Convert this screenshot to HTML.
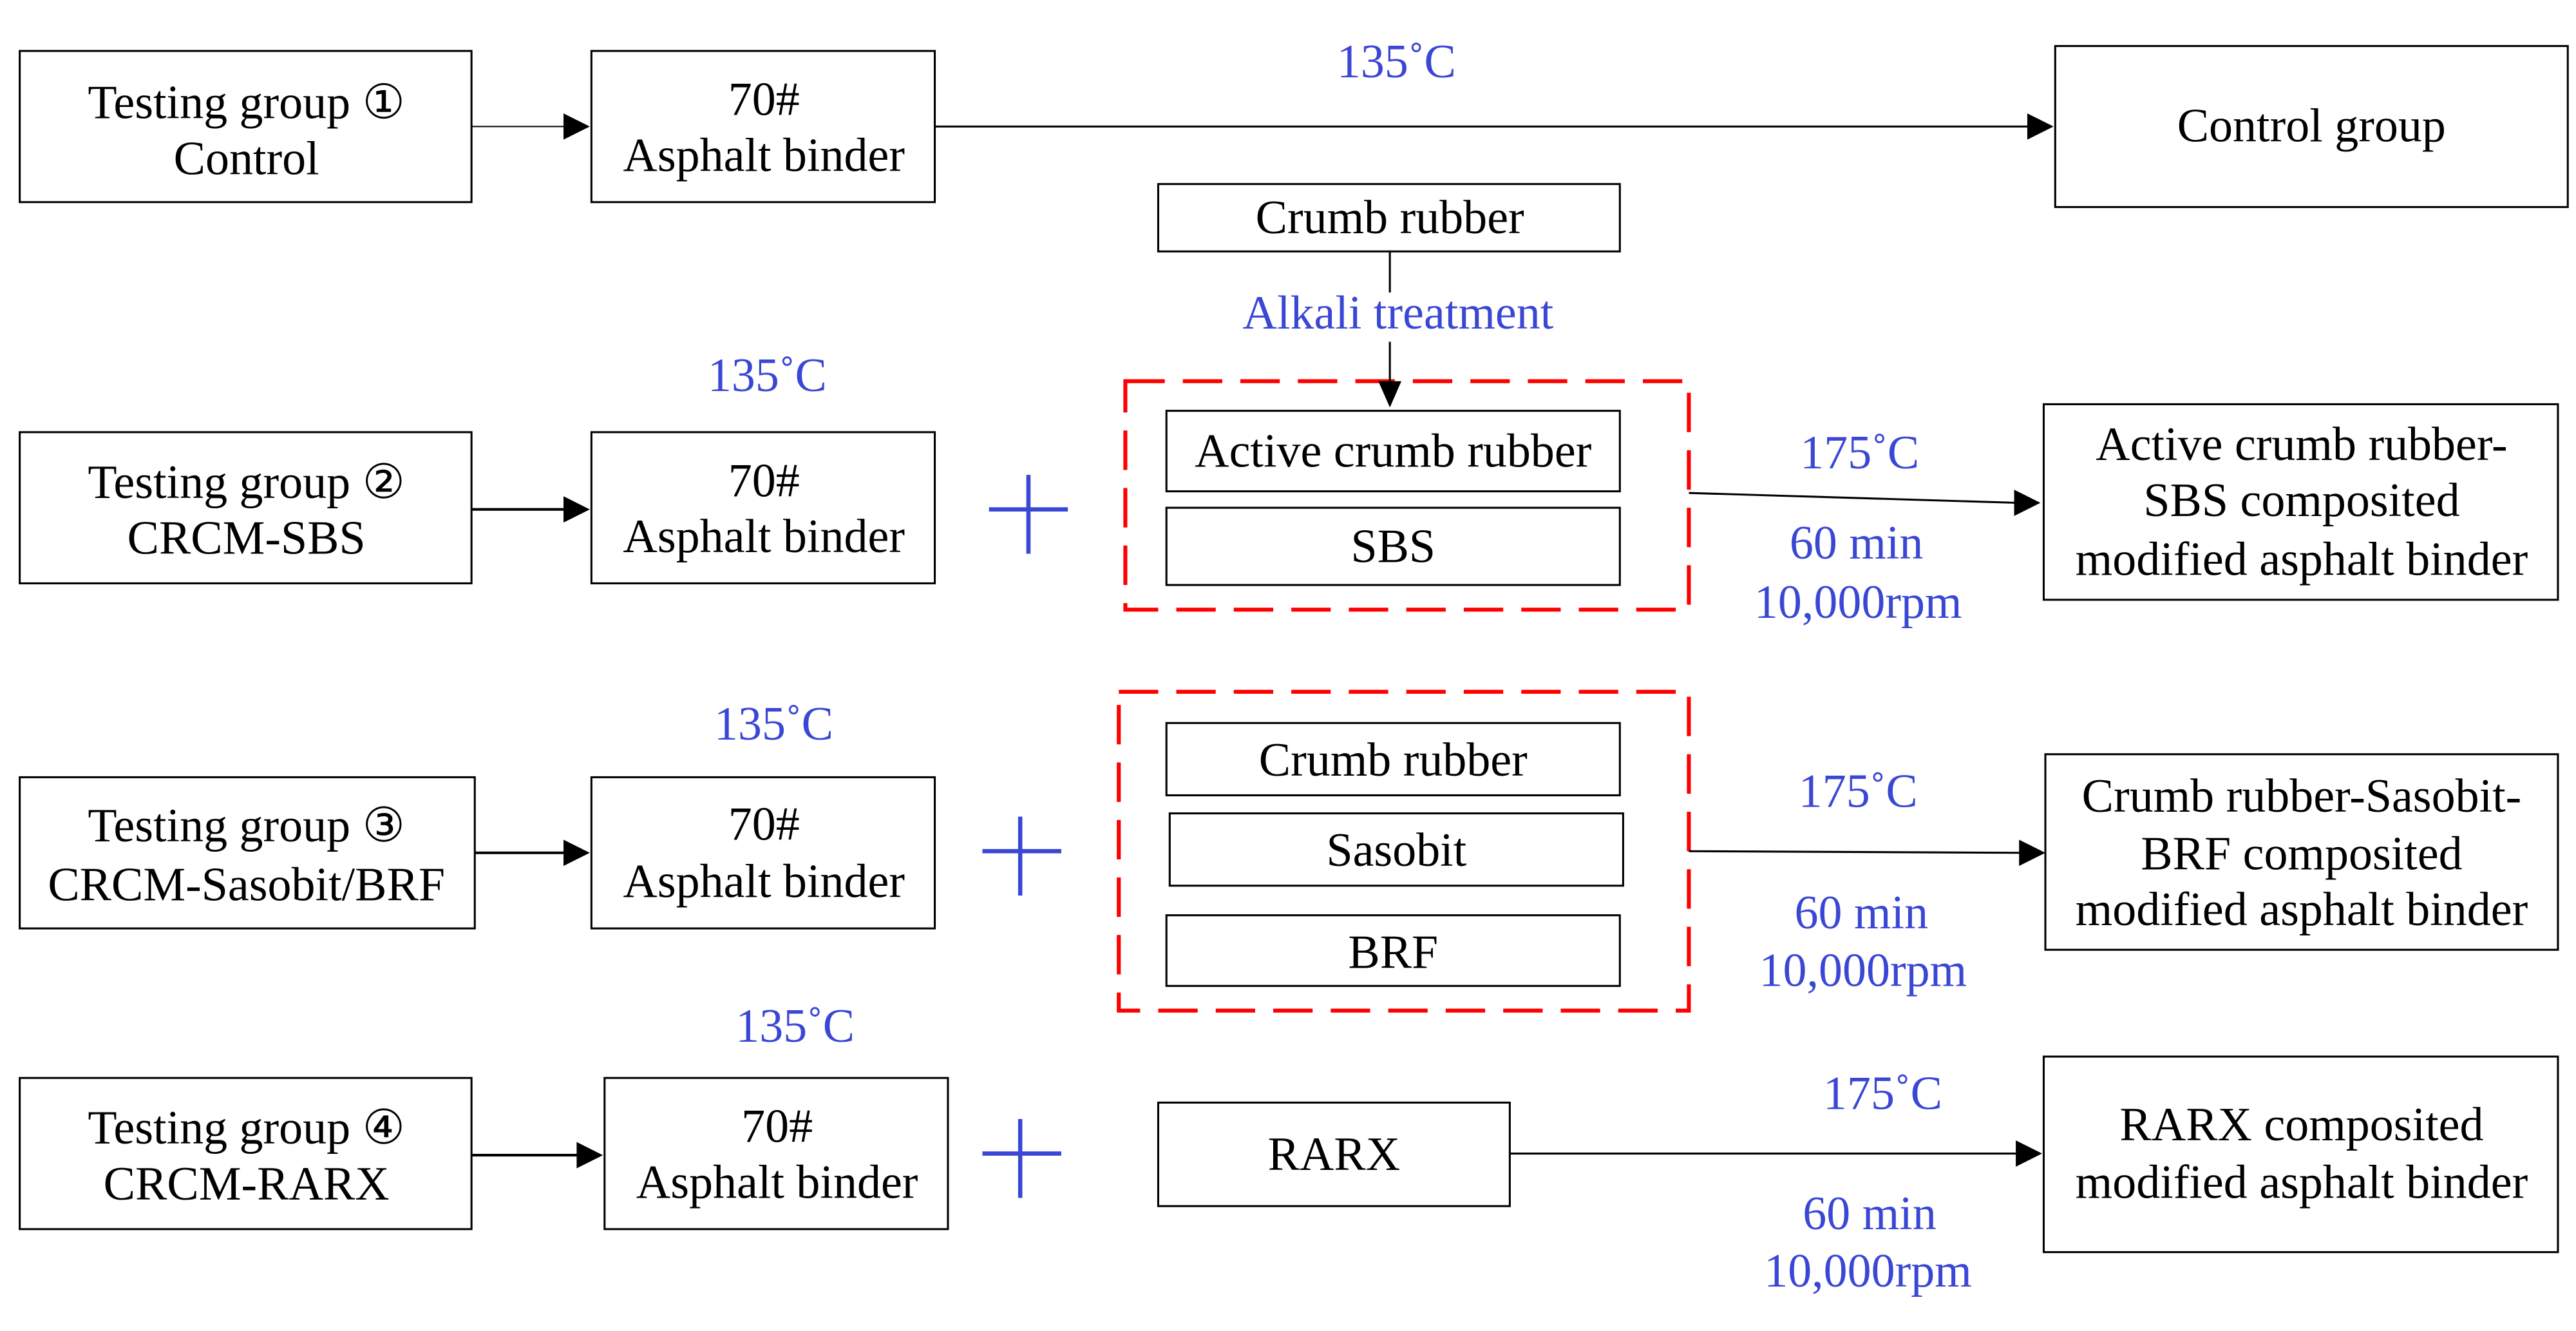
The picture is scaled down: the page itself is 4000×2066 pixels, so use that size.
<!DOCTYPE html>
<html><head><meta charset="utf-8"><style>html,body{margin:0;padding:0;background:#fff}svg{display:block}</style></head>
<body>
<svg width="4000" height="2066" viewBox="0 0 1568 810" preserveAspectRatio="none" xmlns="http://www.w3.org/2000/svg">
<g fill="none" stroke="#000" stroke-width="1.2">
<rect x="12" y="31" width="275" height="92"/>
<rect x="360" y="31" width="209" height="92"/>
<rect x="1251" y="28" width="312" height="98"/>
<rect x="705" y="112" width="281" height="41"/>
<rect x="12" y="263" width="275" height="92"/>
<rect x="360" y="263" width="209" height="92"/>
<rect x="710" y="250" width="276" height="49"/>
<rect x="710" y="309" width="276" height="47"/>
<rect x="1244" y="246" width="313" height="119"/>
<rect x="12" y="473" width="277" height="92"/>
<rect x="360" y="473" width="209" height="92"/>
<rect x="710" y="440" width="276" height="44"/>
<rect x="712" y="495" width="276" height="44"/>
<rect x="710" y="557" width="276" height="43"/>
<rect x="1245" y="459" width="312" height="119"/>
<rect x="12" y="656" width="275" height="92"/>
<rect x="368" y="656" width="209" height="92"/>
<rect x="705" y="671" width="214" height="63"/>
<rect x="1244" y="643" width="313" height="119"/>
</g>
<g fill="none" stroke="#f00" stroke-width="2.4" stroke-dasharray="24 11">
<rect x="685" y="232" width="343" height="139"/>
<rect x="681" y="421" width="347" height="194"/>
</g>
<g stroke="#000" stroke-width="1.2">
<line x1="287" y1="77" x2="345" y2="77" stroke-width="0.8"/>
<line x1="569" y1="77" x2="1236" y2="77"/>
<line x1="846" y1="153" x2="846" y2="234"/>
<line x1="287" y1="310" x2="345" y2="310" stroke-width="1.6"/>
<line x1="1028" y1="300" x2="1228" y2="306"/>
<line x1="289" y1="519" x2="345" y2="519" stroke-width="1.6"/>
<line x1="1028" y1="518" x2="1231" y2="519"/>
<line x1="287" y1="703" x2="353" y2="703" stroke-width="1.6"/>
<line x1="919" y1="702" x2="1229" y2="702"/>
</g>
<g fill="#000">
<polygon points="343,69 359,77 343,85"/>
<polygon points="1234,69 1250,77 1234,85"/>
<polygon points="839,232 846,248 853,232"/>
<polygon points="343,302 359,310 343,318"/>
<polygon points="1226,298 1242,306 1226,314"/>
<polygon points="343,511 359,519 343,527"/>
<polygon points="1229,511 1245,519 1229,527"/>
<polygon points="351,695 367,703 351,711"/>
<polygon points="1227,694 1243,702 1227,710"/>
</g>
<g stroke="#3a47d5" stroke-width="2.6" fill="none">
<line x1="602" y1="310" x2="650" y2="310"/><line x1="626" y1="289" x2="626" y2="337"/>
<line x1="598" y1="518" x2="646" y2="518"/><line x1="621" y1="497" x2="621" y2="545"/>
<line x1="598" y1="702" x2="646" y2="702"/><line x1="621" y1="681" x2="621" y2="729"/>
</g>
<g font-family="'Liberation Serif', serif" font-size="29" fill="#000" text-anchor="middle">
<text x="150" y="72">Testing group ①</text><text x="150" y="106">Control</text>
<text x="465" y="70">70#</text><text x="465" y="104">Asphalt binder</text>
<text x="1407" y="86">Control group</text>
<text x="846" y="142">Crumb rubber</text>
<text x="150" y="303">Testing group ②</text><text x="150" y="337">CRCM-SBS</text>
<text x="465" y="302">70#</text><text x="465" y="336">Asphalt binder</text>
<text x="848" y="284">Active crumb rubber</text>
<text x="848" y="342">SBS</text>
<text x="1401" y="280">Active crumb rubber-</text><text x="1401" y="314">SBS composited</text><text x="1401" y="350">modified asphalt binder</text>
<text x="150" y="512">Testing group ③</text><text x="150" y="548">CRCM-Sasobit/BRF</text>
<text x="465" y="511">70#</text><text x="465" y="546">Asphalt binder</text>
<text x="848" y="472">Crumb rubber</text>
<text x="850" y="527">Sasobit</text>
<text x="848" y="589">BRF</text>
<text x="1401" y="494">Crumb rubber-Sasobit-</text><text x="1401" y="529">BRF composited</text><text x="1401" y="563">modified asphalt binder</text>
<text x="150" y="696">Testing group ④</text><text x="150" y="730">CRCM-RARX</text>
<text x="473" y="695">70#</text><text x="473" y="729">Asphalt binder</text>
<text x="812" y="712">RARX</text>
<text x="1401" y="694">RARX composited</text><text x="1401" y="729">modified asphalt binder</text>
</g>
<g font-family="'Liberation Serif', serif" font-size="29" fill="#3a47d5" text-anchor="middle">
<text x="850" y="47">135˚C</text>
<rect x="755" y="178" width="192" height="30" fill="#fff"/>
<text x="851" y="200">Alkali treatment</text>
<text x="467" y="238">135˚C</text>
<text x="1132" y="285">175˚C</text><text x="1130" y="340">60 min</text><text x="1131" y="376">10,000rpm</text>
<text x="471" y="450">135˚C</text>
<text x="1131" y="491">175˚C</text><text x="1133" y="565">60 min</text><text x="1134" y="600">10,000rpm</text>
<text x="484" y="634">135˚C</text>
<text x="1146" y="675">175˚C</text><text x="1138" y="748">60 min</text><text x="1137" y="783">10,000rpm</text>
</g>
</svg>
</body></html>
